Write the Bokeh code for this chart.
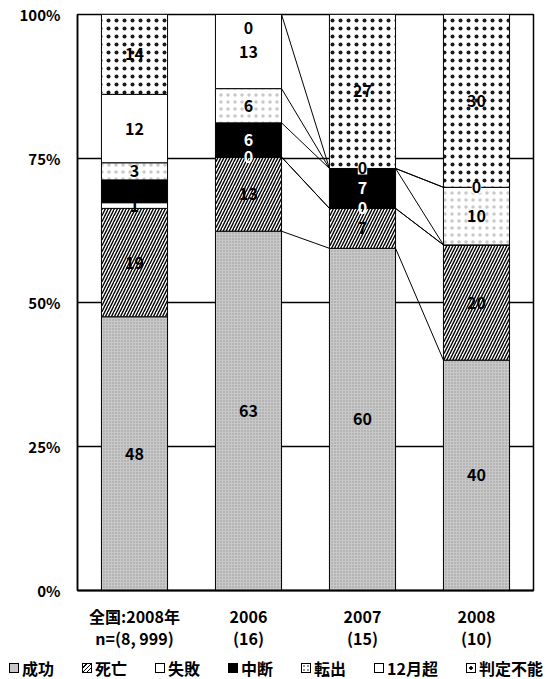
import numpy as np
from bokeh.plotting import figure
from bokeh.layouts import column
from bokeh.models import (Range1d, FixedTicker, Label, Div)
from bokeh.embed import file_html
from bokeh.resources import INLINE

# ---------------- data ----------------
categories = ["全国:2008年", "2006", "2007", "2008"]
counts = ["n=(8, 999)", "(16)", "(15)", "(10)"]
series = ["成功", "死亡", "失敗", "中断", "転出", "12月超", "判定不能"]
seikou = [48, 63, 60, 40]      # 成功
shibou = [19, 13, 7, 20]       # 死亡
shippai = [1, 0, 0, 0]         # 失敗
chudan = [4, 6, 7, 0]          # 中断
tenshutsu = [3, 6, 0, 10]      # 転出
over12 = [12, 13, 0, 0]        # 12月超
hantei = [14, 0, 27, 30]       # 判定不能
y_ticks = [0, 25, 50, 75, 100]
y_tick_labels = ["0%", "25%", "50%", "75%", "100%"]

# which data labels are visible in the original (style)
show = [
    [1, 1, 1, 1],
    [1, 1, 1, 1],
    [1, 1, 1, 0],
    [0, 1, 1, 0],
    [1, 1, 1, 1],
    [1, 1, 0, 1],
    [1, 1, 1, 1],
]

FONT = "Noto Sans CJK JP"

vals = np.array([seikou, shibou, shippai, chudan, tenshutsu, over12, hantei], dtype=float)
pct = vals / vals.sum(axis=0) * 100.0
top = np.cumsum(pct, axis=0)
bot = top - pct
xs = np.arange(len(categories))
BAR_W = 0.58

styles = [
    dict(fill_color="#c8c8c8", hatch_pattern="dot", hatch_color="#606060", hatch_scale=3, hatch_weight=1, hatch_alpha=0.5),
    dict(fill_color="white", hatch_pattern="right_diagonal_line", hatch_color="black", hatch_scale=6, hatch_weight=1.4),
    dict(fill_color="white"),
    dict(fill_color="black"),
    dict(fill_color="white", hatch_pattern="dot", hatch_color="#b0b0b0", hatch_scale=7, hatch_weight=1, hatch_alpha=0.7),
    dict(fill_color="white"),
    dict(fill_color="white", hatch_pattern="dot", hatch_color="black", hatch_scale=8, hatch_weight=0.8, hatch_alpha=0.9),
]
# CSS look of the legend boxes (style)
box_css = [
    "background:#c8c8c8;",
    "background:repeating-linear-gradient(135deg,#fff 0 2px,#000 2px 3px);",
    "background:#fff;",
    "background:#000;",
    "background:radial-gradient(circle,#999 1px,#fff 1.5px) 0 0/4px 4px;",
    "background:#fff;",
    "background:radial-gradient(circle,#000 1.5px,#fff 2px);",
]

p = figure(width=558, height=653, x_range=Range1d(-0.5, 3.5), y_range=Range1d(0, 100),
           output_backend="svg", toolbar_location=None,
           min_border_left=77, min_border_right=25, min_border_top=14, min_border_bottom=60)
p.background_fill_color = "white"
p.border_fill_color = "white"
p.outline_line_color = "black"
p.outline_line_width = 1.5

# grid
p.xgrid.visible = False
p.ygrid.ticker = FixedTicker(ticks=[25, 50, 75])
p.ygrid.grid_line_color = "black"
p.ygrid.grid_line_width = 1.5

# y axis
ya = p.yaxis[0]
ya.ticker = FixedTicker(ticks=y_ticks)
ya.major_label_overrides = {t: l for t, l in zip(y_ticks, y_tick_labels)}
ya.major_tick_line_color = None
ya.minor_tick_line_color = None
ya.axis_line_color = "black"
ya.axis_line_width = 1.5
ya.major_label_standoff = 11
ya.major_label_text_font = FONT
ya.major_label_text_font_style = "bold"
ya.major_label_text_font_size = "15px"
ya.major_label_text_color = "black"

# x axis: two-line category labels
xa = p.xaxis[0]
xa.ticker = FixedTicker(ticks=list(xs))
xa.major_label_overrides = {int(i): c + "\n" + n for i, c, n in zip(xs, categories, counts)}
xa.axis_line_color = "black"
xa.axis_line_width = 2
xa.major_tick_line_color = None
xa.minor_tick_line_color = None
xa.major_label_standoff = 7
xa.major_label_text_font = FONT
xa.major_label_text_font_style = "bold"
xa.major_label_text_font_size = "16px"
xa.major_label_text_line_height = 0.95
xa.major_label_text_color = "black"

# bars
for k, name in enumerate(series):
    p.vbar(x=xs, width=BAR_W, bottom=bot[k], top=top[k],
           line_color="black", line_width=1, **styles[k])

# series lines between 2006-2007 and 2007-2008
for i in (1, 2):
    for k in range(len(series)):
        p.line(x=[xs[i] + BAR_W / 2, xs[i + 1] - BAR_W / 2], y=[top[k][i], top[k][i + 1]],
               line_color="black", line_width=1)

# data labels
for k in range(len(series)):
    for i in range(len(categories)):
        if not show[k][i]:
            continue
        v = int(vals[k][i])
        yc = (bot[k][i] + top[k][i]) / 2.0
        yc = min(yc, 97.6)
        color = "black"
        if k == 3 and v > 0:
            color = "white"
        if k == 2 and v == 0:
            color = "white"
        bg = "white" if (v == 0 and k in (4, 5)) else None
        p.add_layout(Label(x=xs[i], y=yc, text=str(v), text_align="center", text_baseline="middle",
                           text_font=FONT, text_font_style="bold", text_font_size="16px",
                           text_color=color, background_fill_color=bg))

# legend strip
parts = []
for name, css in zip(series, box_css):
    parts.append(
        '<span style="display:inline-flex;align-items:center;margin-right:28px;">'
        '<span style="display:inline-block;width:10px;height:10px;border:1.5px solid #000;'
        + css + 'margin-right:3px;"></span>' + name + '</span>')
html = ('<div style="display:flex;align-items:center;padding:5px 0 0 9px;white-space:nowrap;'
        "font-family:'Noto Sans CJK JP';font-weight:bold;font-size:16px;color:#000;line-height:20px;\">"
        + "".join(parts) + '</div>')
leg = Div(text=html, width=558, height=26, margin=(0, 0, 0, 0))

layout = column(p, leg, spacing=0)
open("out.html", "w").write(file_html(layout, INLINE))
